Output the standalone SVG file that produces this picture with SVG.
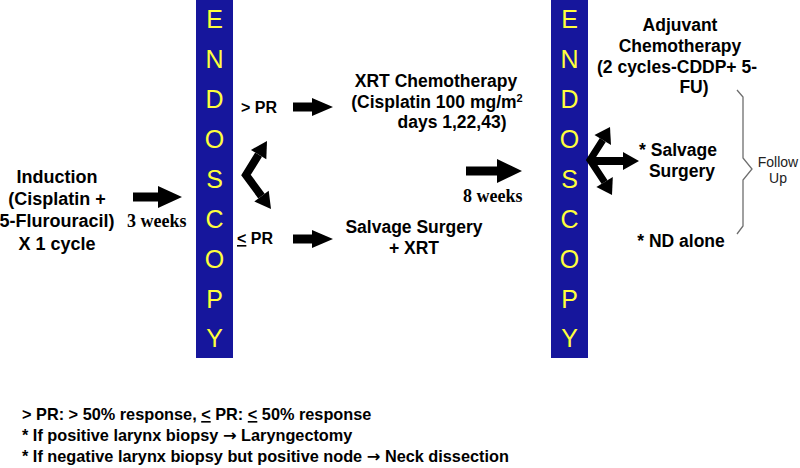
<svg xmlns="http://www.w3.org/2000/svg" width="800" height="468" viewBox="0 0 800 468">
<style>
.b{font-family:"Liberation Sans",Arial,sans-serif;font-weight:bold;font-size:17.5px;fill:#000}
.m{text-anchor:middle}
.tw{font-family:"Liberation Serif","Times New Roman",serif;font-weight:bold;font-size:18px;fill:#000}
.bar{fill:#16169c}
.ltr{font-family:"Liberation Sans",Arial,sans-serif;font-size:25px;fill:#ffff3c;text-anchor:middle}
.blk{fill:#000}
.shaft{fill:none;stroke:#000;stroke-width:8;stroke-linejoin:miter}
.brace{fill:none;stroke:#6e6e6e;stroke-width:1.3}
.fu{font-family:"Liberation Sans",Arial,sans-serif;font-size:14px;fill:#222;text-anchor:middle}
.fn{font-family:"Liberation Sans",Arial,sans-serif;font-weight:bold;font-size:16.3px;fill:#000}
.arr{font-family:"DejaVu Sans",sans-serif;font-weight:bold}
</style>

<rect width="800" height="468" fill="#fff"/>

<g id="endoscopy1">
<rect class="bar" x="196" y="0" width="37" height="358"/>
<text class="ltr" x="214.5" y="28">E</text>
<text class="ltr" x="214.5" y="68">N</text>
<text class="ltr" x="214.5" y="108">D</text>
<text class="ltr" x="214.5" y="148">O</text>
<text class="ltr" x="214.5" y="188">S</text>
<text class="ltr" x="214.5" y="228">C</text>
<text class="ltr" x="214.5" y="268">O</text>
<text class="ltr" x="214.5" y="308">P</text>
<text class="ltr" x="214.5" y="347">Y</text>
</g>

<g id="endoscopy2">
<rect class="bar" x="551" y="0" width="37" height="358"/>
<text class="ltr" x="569.5" y="28">E</text>
<text class="ltr" x="569.5" y="68">N</text>
<text class="ltr" x="569.5" y="108">D</text>
<text class="ltr" x="569.5" y="148">O</text>
<text class="ltr" x="569.5" y="188">S</text>
<text class="ltr" x="569.5" y="228">C</text>
<text class="ltr" x="569.5" y="268">O</text>
<text class="ltr" x="569.5" y="308">P</text>
<text class="ltr" x="569.5" y="347">Y</text>
</g>

<g id="induction">
<text class="b m" style="font-size:18px" x="57" y="183">Induction</text>
<text class="b m" style="font-size:18px" x="57" y="205">(Cisplatin +</text>
<text class="b m" style="font-size:18px" x="57" y="227">5-Flurouracil)</text>
<text class="b m" style="font-size:18px" x="57" y="250">X 1 cycle</text>
</g>

<g id="xrt">
<text class="b m" x="436" y="87">XRT Chemotherapy</text>
<text class="b m" x="437" y="108">(Cisplatin 100 mg/m<tspan dy="-6" style="font-size:11px">2</tspan></text>
<text class="b m" x="452" y="128">days 1,22,43)</text>
</g>

<g id="salvage-xrt">
<text class="b m" x="414" y="233">Salvage Surgery</text>
<text class="b m" x="414" y="254">+ XRT</text>
</g>

<g id="adjuvant">
<text class="b m" x="680" y="31">Adjuvant</text>
<text class="b m" x="680" y="52">Chemotherapy</text>
<text class="b m" x="677" y="73">(2 cycles-CDDP+ 5-</text>
<text class="b m" x="694" y="93">FU)</text>
</g>

<g id="salvage">
<text class="b m" x="678" y="156">* Salvage</text>
<text class="b m" x="682" y="177">Surgery</text>
</g>

<g id="nd-alone">
<text class="b m" x="681" y="247">* ND alone</text>
</g>

<g id="follow-up">
<path class="brace" d="M737,90 L743,97 L743,158 L752,169 L743,180 L743,226 L737,234"/>
<text class="fu" x="778" y="167">Follow</text>
<text class="fu" x="778" y="183">Up</text>
</g>

<g id="connectors">
<polygon class="blk" points="133,192.5 158,192.5 158,186 182,197 158,208 158,201.5 133,201.5"/>
<text class="tw" x="127" y="227">3 weeks</text>

<polygon class="blk" points="293,102.5 312,102.5 312,98 333,107 312,116 312,111.5 293,111.5"/>
<text class="b" style="font-size:16px" x="241" y="113">&gt; PR</text>

<polygon class="blk" points="293,234.5 312,234.5 312,230 333,239 312,248 312,243.5 293,243.5"/>
<text class="b" style="font-size:16px" x="237" y="244"><tspan text-decoration="underline">&lt;</tspan> PR</text>

<polygon class="blk" points="466,166.5 497,166.5 497,159 522,171 497,183 497,175.5 466,175.5"/>
<text class="tw" x="463" y="202">8 weeks</text>

<path class="shaft" d="M258.6,154.6 L246,175 L261.5,196.1"/>
<polygon class="blk" points="267,141 266.3,159.3 250.9,149.9"/>
<polygon class="blk" points="271,209 268.7,190.8 254.3,201.4"/>

<path class="shaft" style="stroke-width:7" d="M602.8,140 L590,160 L604.6,182.1"/>
<polygon class="blk" points="610,127 611,145 594.5,135"/>
<polygon class="blk" points="612,195 612.8,177 596.4,187"/>
<polygon class="blk" points="590,157 623,157 623,152 639,161 623,170 623,165 590,165"/>
</g>

<g id="notes">
<text class="fn" x="22" y="420">&gt; PR: &gt; 50% response, <tspan text-decoration="underline">&lt;</tspan> PR: <tspan text-decoration="underline">&lt;</tspan> 50% response</text>
<text class="fn" x="22" y="441">* If positive larynx biopsy <tspan class="arr">→</tspan> Laryngectomy</text>
<text class="fn" x="22" y="462">* If negative larynx biopsy but positive node <tspan class="arr">→</tspan> Neck dissection</text>
</g>
</svg>
